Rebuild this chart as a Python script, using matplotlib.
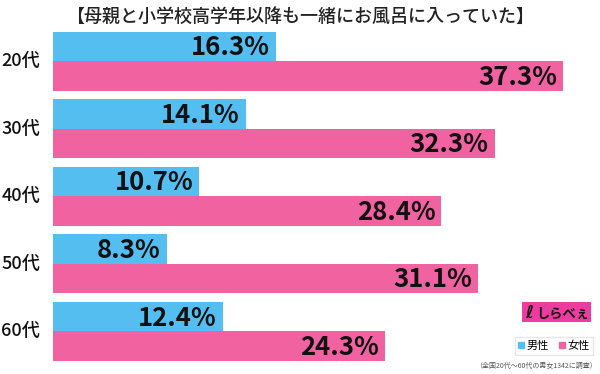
import matplotlib
matplotlib.use("Agg")
import matplotlib.pyplot as plt
from matplotlib.patches import Rectangle
from matplotlib.lines import Line2D
import numpy as np

plt.rcParams['font.family'] = ['Noto Sans CJK JP', 'DejaVu Sans']

title = "【母親と小学校高学年以降も一緒にお風呂に入っていた】"
categories = ["20代", "30代", "40代", "50代", "60代"]
male = [16.3, 14.1, 10.7, 8.3, 12.4]
female = [37.3, 32.3, 28.4, 31.1, 24.3]
series_names = ["男性", "女性"]
note = "（全国20代～60代の男女1342に調査）"

BLUE = "#55BEF0"
PINK = "#F062A0"

W, H = 600, 374
fig = plt.figure(figsize=(W / 100, H / 100), dpi=100)
fig.patch.set_facecolor("white")

left_px = 53
ax = fig.add_axes([left_px / W, 0, (W - left_px) / W, 1])
ax.set_xlim(0, 40)
px_per_unit = 67.6
center0 = 61
ax.set_ylim((H - center0) / px_per_unit, -center0 / px_per_unit)
ax.axis("off")

y = np.arange(len(categories))
bh = 29.5 / px_per_unit
ax.barh(y - bh / 2, male, height=bh, color=BLUE)
ax.barh(y + bh / 2, female, height=bh, color=PINK)

xpx = (W - left_px) / 40
pad = 6 / xpx
for i in range(len(categories)):
    ax.text(male[i] - pad, y[i] - bh / 2 + 0.02, f"{male[i]:.1f}%", ha="right", va="center",
            fontsize=18.5, fontweight="bold", color="#111111")
    ax.text(female[i] - pad, y[i] + bh / 2 + 0.02, f"{female[i]:.1f}%", ha="right", va="center",
            fontsize=18.5, fontweight="bold", color="#111111")
    ax.text(-13 / xpx, y[i], categories[i], ha="right", va="center",
            fontsize=13, fontweight="medium", color="#111111")

fig.text(0.5, 1 - 17 / H, title, ha="center", va="center", fontsize=13, fontweight="medium",
         color="#222222")

# legend
handles = [Line2D([], [], marker="s", linestyle="none", markersize=4.5, color=BLUE),
           Line2D([], [], marker="s", linestyle="none", markersize=4.5, color=PINK)]
leg = fig.legend(handles, series_names, loc="center right",
                 bbox_to_anchor=(599 / W, 1 - 346 / H), ncol=2, fontsize=8,
                 frameon=True, handlelength=0.6, handletextpad=0.2, columnspacing=0.9,
                 borderpad=0.3, fancybox=False, edgecolor="#e0e0e0")

# logo
fig.patches.append(Rectangle((522 / W, 1 - 322 / H), 69 / W, 20 / H, transform=fig.transFigure,
                             facecolor="#EE3BA0", edgecolor="none"))
fig.text(563 / W, 1 - 313.5 / H, "しらべぇ", ha="center", va="center", fontsize=9.5,
         fontweight="bold", color="#111111")
fig.text(529 / W, 1 - 313 / H, "ℓ", ha="center", va="center", fontsize=12,
         fontweight="bold", color="#111111", family=["DejaVu Sans"])

fig.text(597 / W, 1 - 366 / H, note, ha="right", va="center", fontsize=5, color="#555555")

fig.savefig("out.png", dpi=100)
